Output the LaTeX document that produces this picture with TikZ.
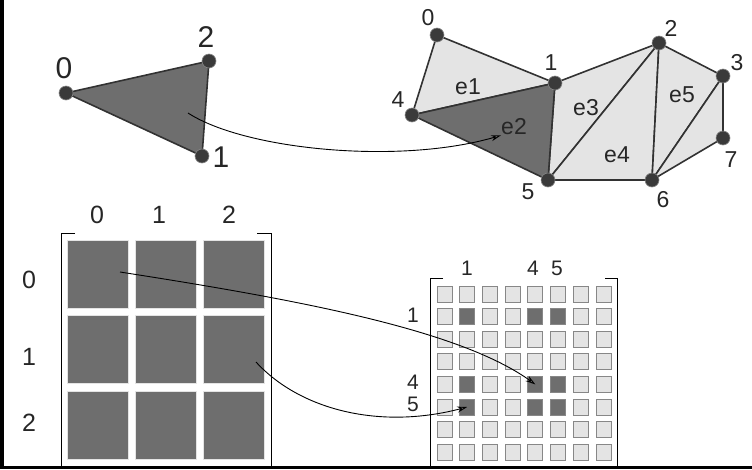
\documentclass[tikz,border=0pt]{standalone}
\usepackage{fontspec}
\setmainfont{Liberation Sans}
\usetikzlibrary{arrows.meta,backgrounds}
\definecolor{CellDark}{RGB}{110,110,110}
\definecolor{CellLight}{RGB}{228,228,228}
\definecolor{CellEdge}{RGB}{135,135,135}
\definecolor{DotGray}{RGB}{58,58,58}
\definecolor{EdgeGray}{RGB}{50,50,50}

\begin{document}
\begin{tikzpicture}[
    x=1pt, y=-1pt,
    vtx/.style={circle,fill=DotGray,draw=CellEdge,line width=0.6pt,minimum size=14pt,inner sep=0pt},
    face/.style={fill=CellLight,draw=EdgeGray,line width=1.6pt,line join=round},
    dface/.style={face,fill=CellDark},
    bigcell/.style={rectangle,fill=CellDark,draw=CellLight,line width=0.6pt,minimum width=61pt,minimum height=68pt,inner sep=0pt},
    lcell/.style={rectangle,fill=CellLight,draw=CellEdge,line width=0.8pt,minimum width=15pt,minimum height=16pt,inner sep=0pt},
    dcell/.style={lcell,fill=CellDark},
    brk/.style={black,line width=1pt},
    link/.style={black,line width=0.9pt,-{Stealth[open,length=10pt,width=6pt]}},
    lab/.style={inner sep=0pt,text=black!85,font=\fontsize{23}{23}\selectfont}
  ]
  \useasboundingbox (0,0) rectangle (752,469);
  % frame
  \fill[black] (0,0) rectangle (4,469);
  \fill[black] (0,466) rectangle (752,469);

  % single element
  \foreach \n/\x/\y in {0/66/93, 1/202/156, 2/209/61}
    \node[vtx] (t\n) at (\x,\y) {};
  \begin{scope}[on background layer]
    \draw[dface] (t0.center) -- (t1.center) -- (t2.center) -- cycle;
  \end{scope}
  \foreach \n/\x/\y in {0/64/68, 2/206/37, 1/221/157}
    \node[lab,font=\fontsize{30}{30}\selectfont] (lt\n) at (\x,\y) {\n};
  \coordinate (tc) at (188,113);

  % mesh
  \foreach \n/\x/\y in {0/437/35, 1/555/83, 2/659/43, 3/723/76,
                        4/412/115, 5/548/180, 6/652/180, 7/723/138}
    \node[vtx] (m\n) at (\x,\y) {};
  \begin{scope}[on background layer]
    \foreach \a/\b/\c in {0/1/4, 1/2/5, 2/6/5, 2/3/6, 3/7/6}
      \draw[face] (m\a.center) -- (m\b.center) -- (m\c.center) -- cycle;
    \draw[dface] (m4.center) -- (m1.center) -- (m5.center) -- cycle;
  \end{scope}
  \foreach \n/\x/\y in {0/428/18, 1/551/63, 2/671/28, 3/737/63,
                        4/398/100, 5/528/192, 6/663/200, 7/731/160}
    \node[lab] (lm\n) at (\x,\y) {\n};
  \foreach \n/\x/\y in {1/468/87, 2/514/127, 3/586/108, 4/617/155, 5/682/95}
    \node[lab] (e\n) at (\x,\y) {e\n};

  % element matrix
  \foreach \r in {0,1,2} {
    \foreach \c in {0,1,2} {
      \node[bigcell] (A\r\c) at (97.5+68*\c,274+75.5*\r) {};
    }
  }
  \foreach \c/\x in {0/97, 1/159, 2/229}
    \node[lab,font=\fontsize{25}{25}\selectfont] (ac\c) at (\x,215) {\c};
  \foreach \r/\y in {0/280, 1/357, 2/423}
    \node[lab,font=\fontsize{25}{25}\selectfont] (ar\r) at (29,\y) {\r};
  \draw[brk] (75,233) -- (61,233) -- (61,467);
  \draw[brk] (257,233) -- (271,233) -- (271,467);

  % global matrix
  \foreach \r in {0,...,7} {
    \foreach \c in {0,...,7} {
      \pgfmathtruncatemacro{\isdark}{((\r==1)||(\r==4)||(\r==5))&&((\c==1)||(\c==4)||(\c==5)) ? 1 : 0}
      \ifnum\isdark=1
        \node[dcell] (B\r\c) at (444.5+22.7*\c,294+22.6*\r) {};
      \else
        \node[lcell] (B\r\c) at (444.5+22.7*\c,294+22.6*\r) {};
      \fi
    }
  }
  \foreach \c/\x in {1/467, 4/533, 5/557}
    \node[lab,font=\fontsize{21}{21}\selectfont] (bc\c) at (\x,268) {\c};
  \foreach \r/\y in {1/315, 4/382, 5/404}
    \node[lab,font=\fontsize{21}{21}\selectfont] (br\r) at (413,\y) {\r};
  \draw[brk] (443,278) -- (430,278) -- (430,467);
  \draw[brk] (605,278) -- (617,278) -- (617,467);

  % assembly arrows
  \coordinate (s1) at (120,272);
  \coordinate (s2) at (256,362);
  \draw[link] (tc) .. controls (245,150) and (400,165) .. (e2.south west);
  \draw[link] (s1) .. controls (300,300) and (460,330) .. (B44.center);
  \draw[link] (s2) .. controls (300,410) and (380,430) .. (B51.center);
\end{tikzpicture}
\end{document}
